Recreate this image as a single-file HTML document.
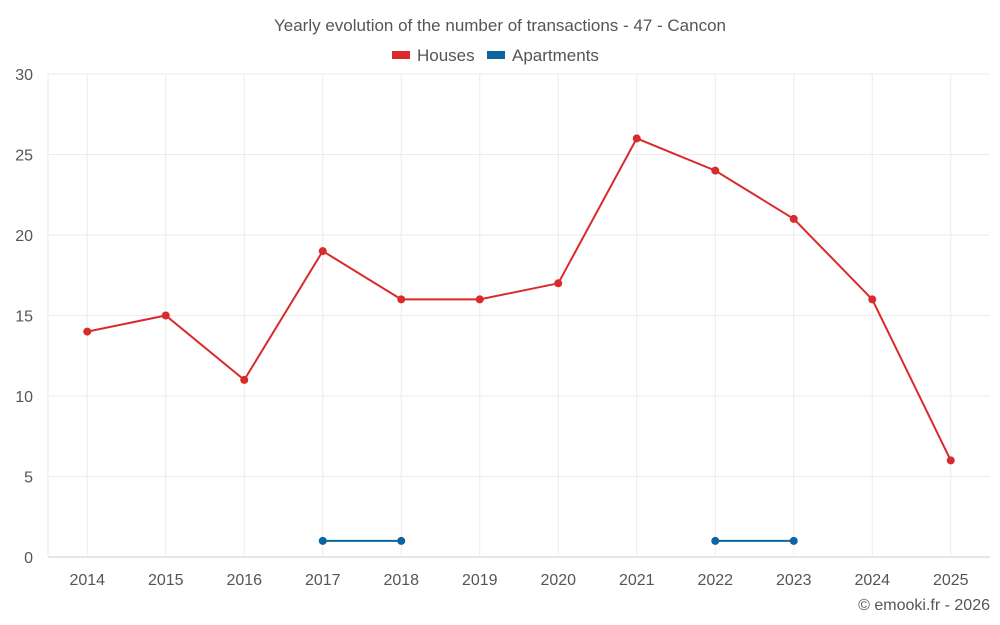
<!DOCTYPE html>
<html><head><meta charset="utf-8">
<style>
body{margin:0;background:#fff;font-family:"Liberation Sans",sans-serif;}
svg{display:block}
</style></head>
<body>
<svg id="chart" width="1000" height="625">
<text x="500" y="31" text-anchor="middle" font-size="17" fill="#555">Yearly evolution of the number of transactions - 47 - Cancon</text>
<g><rect x="392" y="51" width="18" height="8" fill="#d92b2b"/><text x="417" y="61" font-size="17" fill="#555">Houses</text></g>
<g><rect x="487" y="51" width="18" height="8" fill="#0d64a0"/><text x="512" y="61" font-size="17" fill="#555">Apartments</text></g>
<g id="grid"></g><g id="axes"></g><g id="series"></g>
<text x="990" y="610" text-anchor="end" font-size="16" fill="#555">© emooki.fr - 2026</text>
</svg>
<script>
const categories=["2014","2015","2016","2017","2018","2019","2020","2021","2022","2023","2024","2025"];
const houses=[14,15,11,19,16,16,17,26,24,21,16,6];
const apartments=[null,null,null,1,1,null,null,null,1,1,null,null];
const yTicks=[0,5,10,15,20,25,30];
const L=48,R=990,T=74,B=557,yMax=30;
const band=(R-L)/categories.length;
const x=i=>L+band*(i+0.5);
const y=v=>B-(v/yMax)*(B-T);
const NS="http://www.w3.org/2000/svg";
function mk(tag,attrs,parent){const e=document.createElementNS(NS,tag);for(const k in attrs)e.setAttribute(k,attrs[k]);parent.appendChild(e);return e;}
const grid=document.getElementById('grid'),axes=document.getElementById('axes'),ser=document.getElementById('series');
yTicks.forEach(t=>{
  const l=mk('line',{x1:L,x2:R,y1:y(t),y2:y(t),stroke:t===0?'#ccc':'#ebebeb'},grid);
  
  
  const tx=mk('text',{x:33,y:y(t)+6,'text-anchor':'end','font-size':16,fill:'#555'},axes);
  tx.textContent=t;
  
  
});
mk('line',{x1:L,x2:L,y1:T,y2:B,stroke:'#ebebeb'},grid);
categories.forEach((c,i)=>{
  const l=mk('line',{x1:x(i),x2:x(i),y1:T,y2:B,stroke:'#ebebeb'},grid);
  
  
  const tx=mk('text',{x:x(i),y:585,'text-anchor':'middle','font-size':16,fill:'#555'},axes);
  tx.textContent=c;
  
  
});
function draw(vals,color,name){
  let segs=[],cur=[];
  vals.forEach((v,i)=>{if(v==null){if(cur.length)segs.push(cur);cur=[];}else cur.push([x(i),y(v)]);});
  if(cur.length)segs.push(cur);
  segs.forEach(s=>{
    const p=mk('polyline',{points:s.map(q=>q.join(',')).join(' '),fill:'none',stroke:color,'stroke-width':2},ser);
    
    
  });
  vals.forEach((v,i)=>{if(v==null)return;
    const c=mk('circle',{cx:x(i),cy:y(v),r:4,fill:color},ser);
    
    
  });
}
draw(houses,'#d92b2b','houses');
draw(apartments,'#0d64a0','apartments');
</script>
</body></html>
